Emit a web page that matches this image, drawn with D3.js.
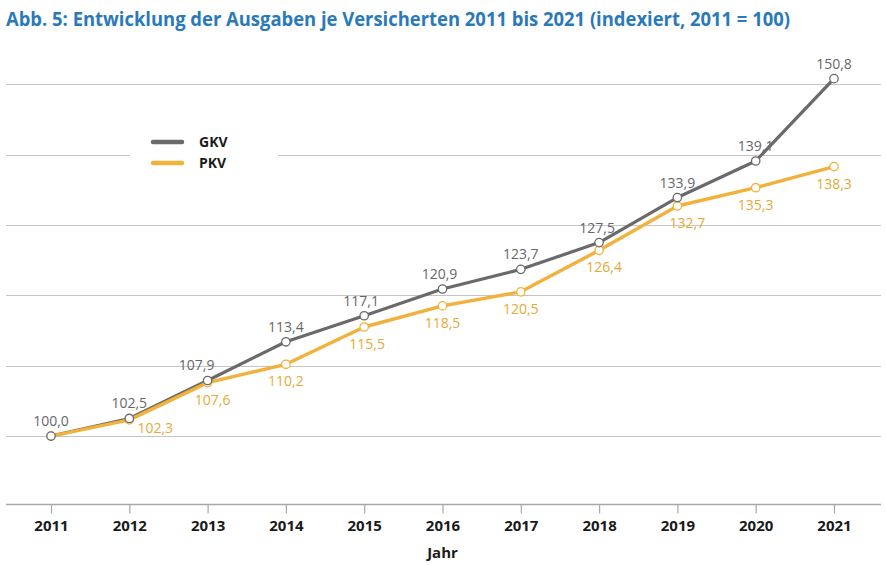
<!DOCTYPE html>
<html>
<head>
<meta charset="utf-8">
<script src="https://cdn.jsdelivr.net/npm/d3@7/dist/d3.min.js"></script>
<style>
  html, body { margin: 0; padding: 0; background: #fff; }
  svg { display: block; }
</style>
</head>
<body>
<svg id="chart" width="886" height="565"></svg>
<script>
// ---- data ----
const years = ["2011","2012","2013","2014","2015","2016","2017","2018","2019","2020","2021"];
const gkv = [100.0, 102.5, 107.9, 113.4, 117.1, 120.9, 123.7, 127.5, 133.9, 139.1, 150.8];
const pkv = [100.0, 102.3, 107.6, 110.2, 115.5, 118.5, 120.5, 126.4, 132.7, 135.3, 138.3];
const gridValues = [100, 110, 120, 130, 140, 150];
const seriesNames = ["GKV", "PKV"];
const titleText = "Abb. 5: Entwicklung der Ausgaben je Versicherten 2011 bis 2021 (indexiert, 2011 = 100)";
const axisTitle = "Jahr";

// ---- styles ----
const colGKV = "#6a6a6a", colPKV = "#f1b13b";
const colGKVText = "#66676b", colPKVText = "#e6a935";
const font = "'Open Sans', 'Noto Sans', sans-serif";
// small label nudges (px) to avoid overlaps, as in the original
const nudgeG = {"2013": -11, "2015": -3, "2016": -3, "2018": -2};
const nudgeP = {"2013": 5, "2015": 3, "2018": 5, "2019": 10};

const svg = d3.select("#chart");
const x = d3.scalePoint().domain(years).range([51, 834]);
const y = d3.scaleLinear().domain([90.3, 150]).range([504.3, 84.3]);
const fmt = v => d3.format(".1f")(v).replace(".", ",");

// title
svg.append("text")
  .attr("x", 6).attr("y", 26)
  .attr("font-family", font).attr("font-weight", 700).attr("font-size", 20)
  .attr("fill", "#2a7ab9")
  .attr("textLength", 784).attr("lengthAdjust", "spacingAndGlyphs")
  .text(titleText);

// gridlines
svg.append("g").selectAll("line").data(gridValues).join("line")
  .attr("x1", 6).attr("x2", 881)
  .attr("y1", d => Math.round(y(d)) + 0.5).attr("y2", d => Math.round(y(d)) + 0.5)
  .attr("stroke", "#c4c4c4").attr("stroke-width", 1);

// x axis
const axisY = Math.round(y(90.3)) + 0.5;
const xAxis = d3.axisBottom(x).tickSize(9).tickPadding(7).tickSizeOuter(0);
const gx = svg.append("g").attr("transform", `translate(0,${axisY})`).call(xAxis);
gx.select(".domain").remove();
gx.append("line").attr("x1", 6).attr("x2", 881).attr("y1", 0).attr("y2", 0)
  .attr("stroke", "#a8a8a8").attr("stroke-width", 1.3);
gx.selectAll(".tick line").attr("stroke", "#a8a8a8").attr("stroke-width", 1.2);
gx.selectAll(".tick text")
  .attr("font-family", font).attr("font-weight", 700).attr("font-size", 15)
  .attr("fill", "#1a1a1a");

svg.append("text")
  .attr("x", x("2016")).attr("y", 558).attr("text-anchor", "middle")
  .attr("font-family", font).attr("font-weight", 700).attr("font-size", 15)
  .attr("fill", "#1a1a1a").text(axisTitle);

// legend (white box interrupts gridline)
svg.append("rect").attr("x", 130).attr("y", 128).attr("width", 148).attr("height", 46).attr("fill", "#fff");
const leg = [{name: seriesNames[0], c: colGKV, y: 142}, {name: seriesNames[1], c: colPKV, y: 163}];
leg.forEach(l => {
  svg.append("line").attr("x1", 153).attr("x2", 182).attr("y1", l.y).attr("y2", l.y)
    .attr("stroke", l.c).attr("stroke-width", 4.5).attr("stroke-linecap", "round");
  svg.append("text").attr("x", 199).attr("y", l.y + 5)
    .attr("font-family", font).attr("font-weight", 700).attr("font-size", 14)
    .attr("fill", "#1a1a1a").text(l.name);
});

// lines
const line = d3.line().x((d, i) => x(years[i])).y(d => y(d));
svg.append("path").datum(gkv).attr("d", line).attr("fill", "none")
  .attr("stroke", colGKV).attr("stroke-width", 3.2).attr("stroke-linejoin", "round");
svg.append("path").datum(pkv).attr("d", line).attr("fill", "none")
  .attr("stroke", colPKV).attr("stroke-width", 3.4).attr("stroke-linejoin", "round");

// markers
svg.append("g").selectAll("circle").data(pkv).join("circle")
  .attr("cx", (d, i) => x(years[i])).attr("cy", d => y(d)).attr("r", 4.2)
  .attr("fill", "#fff").attr("stroke", colPKV).attr("stroke-width", 1.3);
svg.append("g").selectAll("circle").data(gkv).join("circle")
  .attr("cx", (d, i) => x(years[i])).attr("cy", d => y(d)).attr("r", 4.2)
  .attr("fill", "#fff").attr("stroke", colGKV).attr("stroke-width", 1.3)
  .attr("display", (d, i) => (i === 0 || gkv[i] !== pkv[i]) ? null : "none");

// value labels
svg.append("g").selectAll("text").data(gkv).join("text")
  .attr("x", (d, i) => x(years[i]) + (nudgeG[years[i]] || 0))
  .attr("y", d => y(d) - 10)
  .attr("text-anchor", "middle")
  .attr("font-family", font).attr("font-size", 14).attr("fill", colGKVText)
  .text(d => fmt(d));
svg.append("g").selectAll("text").data(pkv).join("text")
  .filter((d, i) => i > 0)
  .attr("x", d => { const i = pkv.indexOf(d); return x(years[i]) + (i === 1 ? 26 : (nudgeP[years[i]] || 0)); })
  .attr("y", d => { const i = pkv.indexOf(d); return y(d) + (i === 1 ? 13 : 22); })
  .attr("text-anchor", "middle")
  .attr("font-family", font).attr("font-size", 14).attr("fill", colPKVText)
  .text(d => fmt(d));
</script>
</body>
</html>
